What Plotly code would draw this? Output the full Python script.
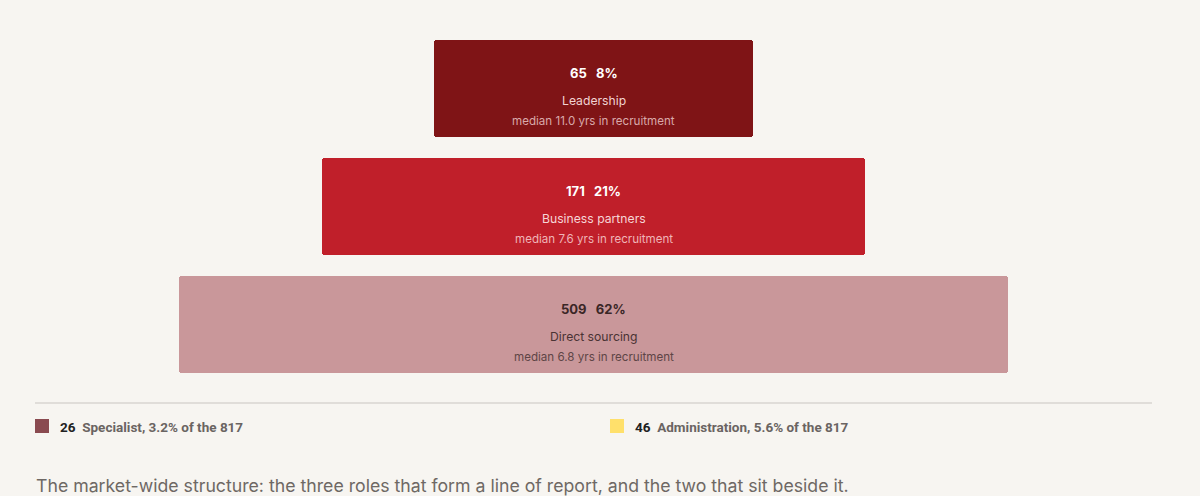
import plotly.graph_objects as go

# main line of report, top to bottom
roles = ["Leadership", "Business partners", "Direct sourcing"]
counts = [65, 171, 509]
medians = [11.0, 7.6, 6.8]
# the two roles that sit beside it
side_roles = ["Specialist", "Administration"]
side_counts = [26, 46]
total = 817

bar_colors = ["#7f1416", "#c01f2a", "#c9979a"]
head_colors = ["#ffffff", "#ffffff", "#3a2626"]
label_colors = ["#f1d3d3", "#f6d5d6", "#4a3334"]
sub_colors = ["#d9a9aa", "#efb4b7", "#5e4546"]
side_colors = ["#8a4a50", "#ffe06b"]

W, H = 1200, 496
FONT = "Inter, Roboto, sans-serif"


def bar_len(n):
    # display length, compressed so the small roles stay readable
    return -1346.5 + 968 * n ** 0.13


lens = [bar_len(n) for n in counts]

fig = go.Figure()
fig.add_trace(go.Bar(
    y=roles, x=lens, base=[-l / 2 for l in lens], orientation="h",
    width=0.822, marker=dict(color=bar_colors, line_width=0, cornerradius=3),
    hoverinfo="skip", showlegend=False,
))

for i, r in enumerate(roles):
    pct = round(100 * counts[i] / total)
    fig.add_annotation(x=0, y=r, yshift=15.5, text=f"<b>{counts[i]}&nbsp;&nbsp;&nbsp;{pct}%</b>",
                       showarrow=False, font=dict(size=13, color=head_colors[i], family=FONT))
    fig.add_annotation(x=0, y=r, yshift=-11.5, text=r,
                       showarrow=False, font=dict(size=12.2, color=label_colors[i], family=FONT))
    fig.add_annotation(x=0, y=r, yshift=-32.5, text=f"median {medians[i]:.1f} yrs in recruitment",
                       showarrow=False, font=dict(size=11.6, color=sub_colors[i], family=FONT))

# divider
fig.add_shape(type="line", xref="paper", yref="paper", x0=35 / W, x1=1152 / W,
              y0=1 - 403 / H, y1=1 - 403 / H, line=dict(color="#d8d5d0", width=1.5))

# side roles
for j, (name, n) in enumerate(zip(side_roles, side_counts)):
    x0 = [35, 610][j]
    fig.add_shape(type="rect", xref="paper", yref="paper", x0=x0 / W, x1=(x0 + 14) / W,
                  y0=1 - 433 / H, y1=1 - 419 / H, fillcolor=side_colors[j], line_width=0)
    pct = 100 * n / total
    fig.add_annotation(xref="paper", yref="paper", x=(x0 + 23) / W, y=1 - 427 / H,
                       xanchor="left", yanchor="middle", showarrow=False,
                       text=f"<b>{n}</b>&nbsp;&nbsp;<span style='color:#6a6462;font-size:13.5px'><b>{name}, {pct:.1f}% of the {total}</b></span>",
                       font=dict(size=13.5, color="#222222", family="Roboto, sans-serif"))

fig.add_annotation(xref="paper", yref="paper", x=34 / W, y=1 - 485 / H, xanchor="left", yanchor="middle",
                   showarrow=False,
                   text="The market-wide structure: the three roles that form a line of report, and the two that sit beside it.",
                   font=dict(size=17.7, color="#6e6864", family=FONT))

fig.update_layout(
    width=W, height=H, margin=dict(l=0, r=0, t=0, b=0),
    paper_bgcolor="#f7f5f1", plot_bgcolor="#f7f5f1",
    xaxis=dict(range=[-593.5, 606.5], visible=False, fixedrange=True),
    yaxis=dict(range=[3.453, -0.75], visible=False, fixedrange=True),
    bargap=0,
)
fig.write_html("out.html", config={"displayModeBar": False},
               post_script="document.body.style.margin='0';document.body.style.background='#f7f5f1';")
